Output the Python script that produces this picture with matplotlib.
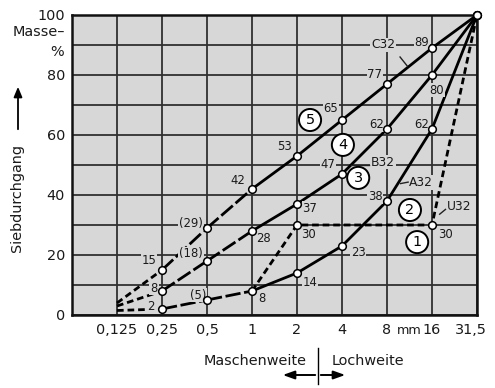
import numpy as np
import matplotlib
matplotlib.use("Agg")
import matplotlib.pyplot as plt
from matplotlib import font_manager as fm
from matplotlib.transforms import ScaledTranslation

# ---------------- data ----------------
sieve_labels = ["0,125", "0,25", "0,5", "1", "2", "4", "8", "16", "31,5"]
a32 = [1.5, 2, 5, 8, 14, 23, 38, 62, 100]
b32 = [3, 8, 18, 28, 37, 47, 62, 80, 100]
c32 = [4, 15, 29, 42, 53, 65, 77, 89, 100]
u32_idx = [3, 4, 7, 8]          # sieve indices of U32 points (1, 2, 16, 31,5 mm)
u32 = [8, 30, 30, 100]
zone_labels = ["1", "2", "3", "4", "5"]
y_ticks = [0, 20, 40, 60, 80, 100]

# ---------------- fonts ----------------
def has_font(name):
    try:
        fm.findfont(fm.FontProperties(family=name), fallback_to_default=False)
        return True
    except Exception:
        return False

if has_font("Liberation Sans Narrow"):
    FAM = ["Liberation Sans Narrow", "DejaVu Sans"]
    S = 1.0
else:
    FAM = ["DejaVu Sans"]
    S = 0.8
plt.rcParams["font.family"] = FAM

BG = "#d7d7d7"
GRID = "#303030"
TXT = "#1a1a1a"
W, H = 495, 388
fig = plt.figure(figsize=(W / 100, H / 100), dpi=100)
fig.patch.set_facecolor("white")
ax = fig.add_axes([72 / W, 1 - 315 / H, (477 - 72) / W, 300 / H])
ax.set_facecolor(BG)

xpos = np.arange(1, len(sieve_labels) + 1)
ax.set_xlim(0, xpos[-1])
ax.set_ylim(0, 100)

# grid
ax.set_xticks(xpos)
ax.set_xticklabels(sieve_labels, fontsize=13 * S, color=TXT)
ax.set_yticks(y_ticks)
ax.set_yticklabels([str(v) for v in y_ticks], fontsize=13 * S, color=TXT)
ax.set_yticks(np.arange(0, 101, 10), minor=True)
ax.tick_params(length=0, which="both")
ax.tick_params(axis="x", pad=6)
ax.tick_params(axis="y", pad=5)
ax.grid(True, which="both", color=GRID, lw=1.3)
ax.set_axisbelow(True)
for sp in ax.spines.values():
    sp.set_color("#111111")
    sp.set_linewidth(1.8)
# shift last tick label a bit left
lab = ax.get_xticklabels()[-1]
lab.set_transform(lab.get_transform() + ScaledTranslation(-6 / 100, 0, fig.dpi_scale_trans))
ax.annotate("mm", (7.5, 0), xycoords=("data", "axes fraction"), xytext=(0, -6.5),
            textcoords="offset points", ha="center", va="top", fontsize=11.5 * S, color=TXT)

SHORT = (2.4, 1.4)
LONG = (5.5, 1.3)

def draw_curve(vals):
    for i in range(len(vals) - 1):
        seg_x = xpos[i:i + 2]
        seg_y = vals[i:i + 2]
        if i == 0:
            ax.plot(seg_x, seg_y, color="black", lw=2, dashes=SHORT, zorder=3)
        elif i in (1, 2):
            ax.plot(seg_x, seg_y, color="black", lw=2, dashes=LONG, zorder=3)
        else:
            ax.plot(seg_x, seg_y, color="black", lw=2, zorder=3, solid_capstyle="butt")
    ax.plot(xpos[1:], vals[1:], ls="none", marker="o", ms=5.5, mfc="white",
            mec="black", mew=1.1, zorder=5, clip_on=False)

for curve in (a32, b32, c32):
    draw_curve(curve)

ux = [xpos[i] for i in u32_idx]
ax.plot(ux, u32, color="black", lw=2, dashes=SHORT, zorder=3)
ax.plot(ux[1:3], u32[1:3], ls="none", marker="o", ms=5.5, mfc="white",
        mec="black", mew=1.1, zorder=5)

# ---------------- value labels ----------------
def fmt(v, i):
    return f"({v:g})" if i == 2 else f"{v:g}"

PX = 0.72  # points per pixel
off_c = [(-13, 9), (-16, 4), (-14, 9), (-12, 9), (-11, 11), (-12, 9), (-10, 6)]
off_b = [(-8, 3), (-16, 7), (11, -8), (13, -4), (-14, 9), (-10, 4), (5, -15)]
off_a = [(-11, 2), (-9, 5), (10, -8), (13, -9), (16, -7), (-12, 4), (-10, 5)]
lbl_box = dict(boxstyle="square,pad=0.08", fc=BG, ec="none")

for vals, offs in ((c32, off_c), (b32, off_b), (a32, off_a)):
    for k, (dx, dy) in enumerate(offs):
        i = k + 1
        ax.annotate(fmt(vals[i], i), (xpos[i], vals[i]), xytext=(dx * PX, dy * PX),
                    textcoords="offset points", ha="center", va="center",
                    fontsize=10.5 * S, color=TXT, bbox=lbl_box, zorder=4)
for j, (dx, dy) in zip((1, 2), ((11, -10), (13, -10))):
    ax.annotate(f"{u32[j]:g}", (ux[j], u32[j]), xytext=(dx * PX, dy * PX),
                textcoords="offset points", ha="center", va="center",
                fontsize=10.5 * S, color=TXT, bbox=lbl_box, zorder=4)

# curve names with leaders
names = [("C32", 6.91, 90, (7.29, 86), (7.45, 83)),
         ("B32", 6.91, 51, (6.6, 50), (6.2, 50)),
         ("A32", 7.75, 44.3, (7.47, 44.3), (7.3, 43.8)),
         ("U32", 8.6, 36, (8.3, 35.2), (8.17, 33.6))]
for name, tx, ty, p0, p1 in names:
    ax.text(tx, ty, name, ha="center", va="center", fontsize=11 * S,
            color=TXT, bbox=lbl_box, zorder=4)
    ax.plot([p0[0], p1[0]], [p0[1], p1[1]], color="#222222", lw=1, zorder=4)

# zone circles
zone_pos = [(7.67, 24.3), (7.51, 35), (6.36, 45.7), (6.02, 56.7), (5.29, 65)]
for z, (zx, zy) in zip(zone_labels, zone_pos):
    ax.text(zx, zy, z, ha="center", va="center", fontsize=13 * S, color="black",
            bbox=dict(boxstyle="circle,pad=0.28", fc="white", ec="black", lw=1.4),
            zorder=6)

# ---------------- outer texts ----------------
fig.text(65 / W, 1 - 32 / H, "Masse\u2013", ha="right", va="center", fontsize=13 * S,
         color=TXT)
fig.text(64 / W, 1 - 52 / H, "%", ha="right", va="center", fontsize=13 * S, color=TXT)
fig.text(17 / W, 1 - 198 / H, "Siebdurchgang", rotation=90, ha="center", va="center",
         fontsize=13 * S, color=TXT)
fig.patches.append(matplotlib.patches.FancyArrowPatch(
    (18 / W, 1 - 132 / H), (18 / W, 1 - 84 / H), transform=fig.transFigure,
    arrowstyle="-|>,head_length=6,head_width=2.5", color="black", lw=1.3))

fig.text(307 / W, 1 - 361 / H, "Maschenweite", ha="right", va="center", fontsize=13 * S,
         color=TXT)
fig.text(332 / W, 1 - 361 / H, "Lochweite", ha="left", va="center", fontsize=13 * S,
         color=TXT)
fig.add_artist(matplotlib.lines.Line2D([318 / W, 318 / W], [1 - 348 / H, 1 - 384 / H],
                                       transform=fig.transFigure, color="black", lw=1))
for xe in (280, 348):
    fig.patches.append(matplotlib.patches.FancyArrowPatch(
        (318 / W, 1 - 375 / H), (xe / W, 1 - 375 / H), transform=fig.transFigure,
        arrowstyle="-|>,head_length=7,head_width=2.5", color="black", lw=1.4))

fig.savefig("out.png", dpi=100, facecolor="white")
